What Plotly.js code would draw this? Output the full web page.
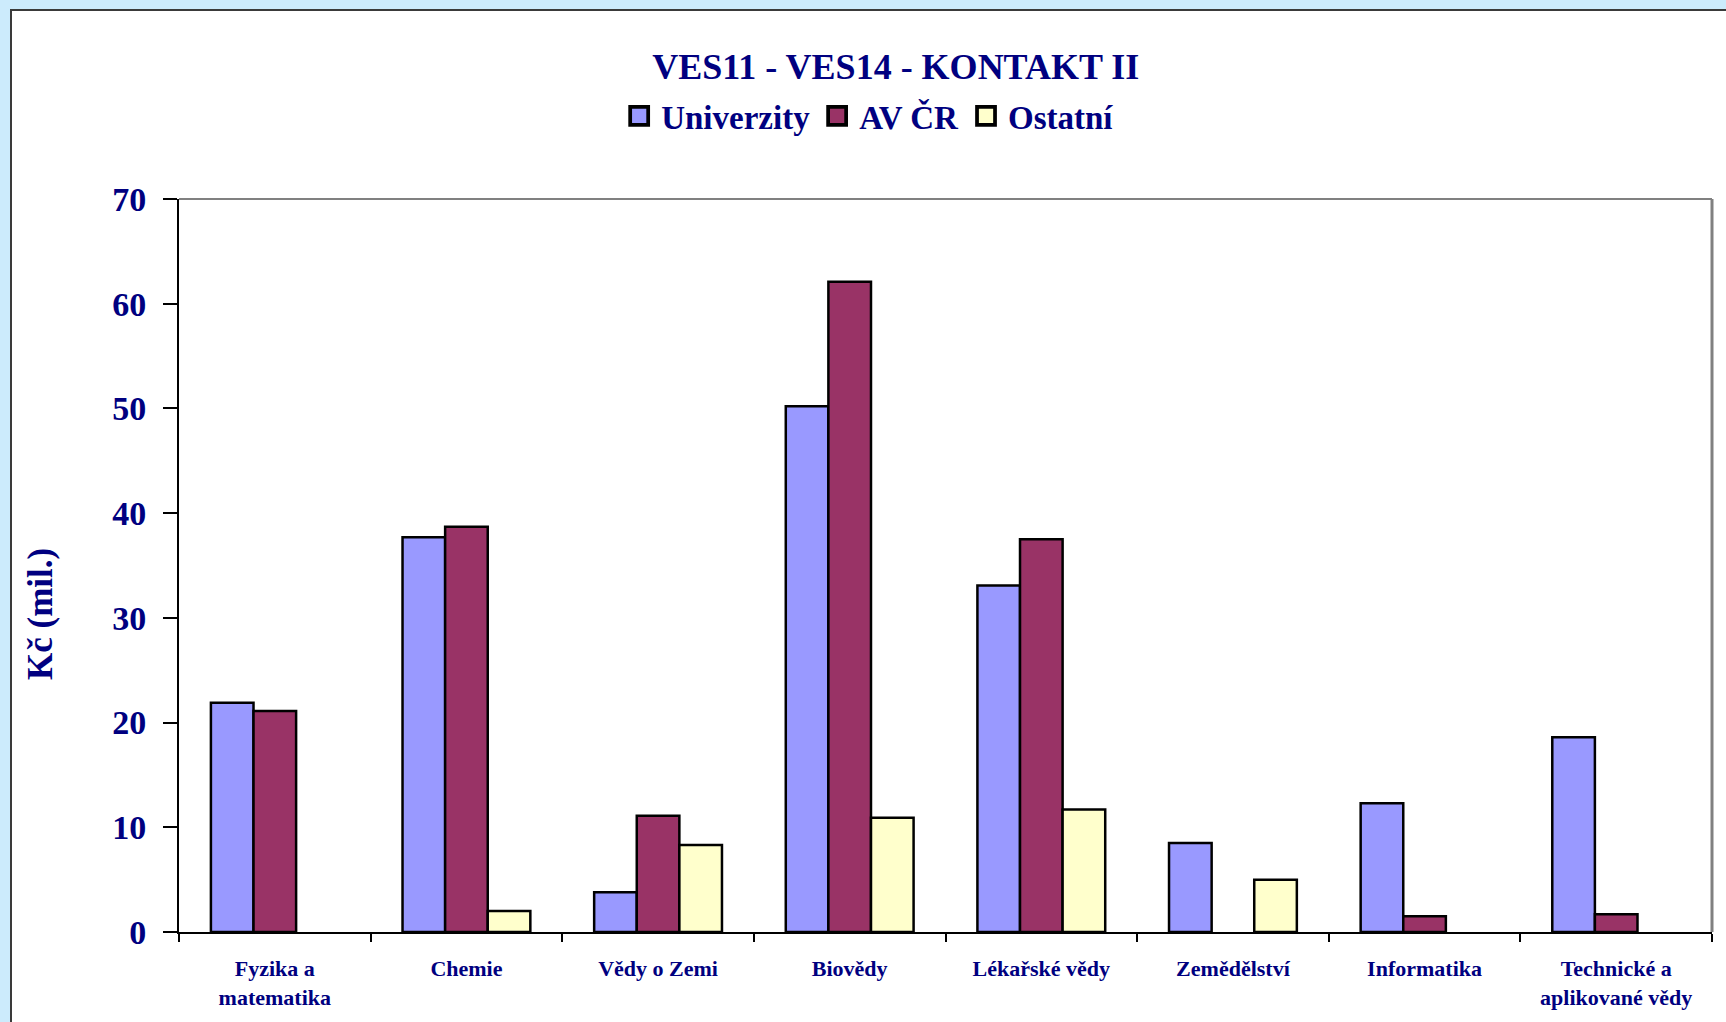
<!DOCTYPE html>
<html>
<head>
<meta charset="utf-8">
<script src="https://cdn.plot.ly/plotly-3.0.1.min.js"></script>
<style>
  html, body { margin: 0; padding: 0; background: #CCEBFC; overflow: hidden; }
  #frame { position: absolute; left: 10px; top: 9px; width: 1740px; height: 1040px; background: #ffffff; border: 2px solid #3a3a3a; }
  #chart { position: absolute; left: 0; top: 0; width: 1726px; height: 1022px; }
</style>
</head>
<body>
<div id="frame"></div>
<div id="chart"></div>
<script>
const categories = [
  "Fyzika a<br>matematika",
  "Chemie",
  "Vědy o Zemi",
  "Biovědy",
  "Lékařské vědy",
  "Zemědělství",
  "Informatika",
  "Technické a<br>aplikované vědy"
];
const univerzity = [21.9, 37.7, 3.8, 50.2, 33.1, 8.5, 12.3, 18.6];
const avcr       = [21.1, 38.7, 11.1, 62.1, 37.5, null, 1.5, 1.7];
const ostatni    = [null, 2.0, 8.3, 10.9, 11.7, 5.0, null, null];
const seriesNames = ["Univerzity", "AV ČR", "Ostatní"];
const yTicks = [0, 10, 20, 30, 40, 50, 60, 70];

const navy = "#000080";
const serif = "'Liberation Serif', 'Times New Roman', serif";
const lineStyle = { color: "#000000", width: 2.5 };

const data = [
  { type: "bar", name: seriesNames[0], x: categories, y: univerzity,
    marker: { color: "#9999FF", line: lineStyle } },
  { type: "bar", name: seriesNames[1], x: categories, y: avcr,
    marker: { color: "#993366", line: lineStyle } },
  { type: "bar", name: seriesNames[2], x: categories, y: ostatni,
    marker: { color: "#FFFFCC", line: lineStyle } }
];

const layout = {
  width: 1726, height: 1022,
  paper_bgcolor: "rgba(0,0,0,0)",
  plot_bgcolor: "#ffffff",
  margin: { l: 179, r: 14, t: 199, b: 90 },
  barmode: "group",
  bargap: 0.333,
  bargroupgap: 0,
  hovermode: false,
  title: {
    text: "VES11 - VES14 - KONTAKT II",
    font: { family: serif, size: 36, color: navy, weight: "bold" },
    xref: "container", x: 0.519, xanchor: "center",
    yref: "container", y: 1 - 66 / 1022, yanchor: "middle"
  },
  showlegend: true,
  legend: {
    orientation: "h",
    xref: "container", x: 0.503, xanchor: "center",
    yref: "container", y: 1 - 116 / 1022, yanchor: "middle",
    font: { family: serif, size: 33, color: navy, weight: "bold" },
    bgcolor: "rgba(0,0,0,0)",
    itemwidth: 34,
    traceorder: "normal"
  },
  xaxis: {
    type: "category",
    showline: true, linecolor: "#000000", linewidth: 2,
    ticks: "outside", tickson: "boundaries", ticklen: 8, tickwidth: 2, tickcolor: "#000000",
    tickfont: { family: serif, size: 22, color: navy, weight: "bold" },
    ticklabelstandoff: 16,
    showgrid: false, zeroline: false, fixedrange: true,
    mirror: false
  },
  yaxis: {
    range: [0, 70],
    tickvals: yTicks,
    ticktext: yTicks.map(String),
    showline: true, linecolor: "#000000", linewidth: 2,
    ticks: "outside", ticklen: 14, tickwidth: 2, tickcolor: "#000000",
    tickfont: { family: serif, size: 34, color: navy, weight: "bold" },
    ticklabelstandoff: 10,
    showgrid: false, zeroline: false, fixedrange: true
  },
  shapes: [
    { type: "line", xref: "paper", yref: "paper", x0: 0, x1: 1, y0: 1, y1: 1,
      line: { color: "#808080", width: 2 } },
    { type: "line", xref: "paper", yref: "paper", x0: 1, x1: 1, y0: 0, y1: 1,
      line: { color: "#808080", width: 3 } }
  ],
  annotations: [
    { text: "Kč (mil.)", textangle: -90, showarrow: false,
      xref: "paper", x: (40 - 179) / 1533, xanchor: "center",
      yref: "paper", y: (932 - 614) / 733, yanchor: "middle",
      font: { family: serif, size: 35, color: navy, weight: "bold" } }
  ]
};

Plotly.newPlot("chart", data, layout, { displayModeBar: false, staticPlot: true }).then(function () {
  document.querySelectorAll("#chart .legend .legendpoints path").forEach(function (p) {
    const t = p.getAttribute("transform") || "";
    p.setAttribute("transform", t + " scale(1.5)");
  });
});
</script>
</body>
</html>
